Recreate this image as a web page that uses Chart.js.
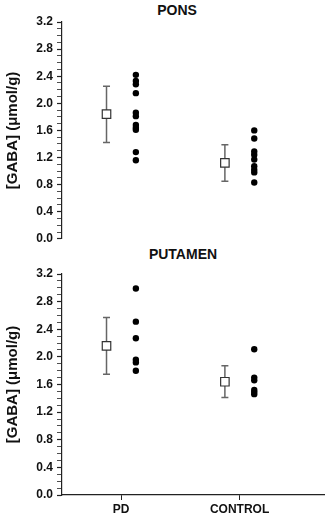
<!DOCTYPE html>
<html>
<head>
<title>GABA Pons / Putamen</title>
<script src="https://cdn.jsdelivr.net/npm/chart.js"></script>
<style>
  body { margin: 0; background: #fff; width: 332px; height: 515px; position: relative; overflow: hidden; }
  .ttl { position: absolute; font: bold 14px Arial, "Liberation Sans", sans-serif; color: #111; transform: translateX(-50%); }
  canvas { position: absolute; left: 0; }
</style>
</head>
<body>
<div class="ttl" style="left:177px; top:2px">PONS</div>
<div class="ttl" style="left:183px; top:246px">PUTAMEN</div>
<div style="position:absolute;left:0;top:0;width:332px;height:250px"><canvas id="pons"></canvas></div>
<div style="position:absolute;left:0;top:262px;width:332px;height:253px"><canvas id="putamen"></canvas></div>

<script>
// groups along the x axis
const categories = ['PD', 'CONTROL'];
const yTicks = [0, 0.4, 0.8, 1.2, 1.6, 2.0, 2.4, 2.8, 3.2];

// PONS - individual values
const ponsPD = [2.42, 2.33, 2.28, 2.15, 1.86, 1.81, 1.68, 1.64, 1.61, 1.28, 1.16];
const ponsControl = [1.60, 1.48, 1.29, 1.24, 1.17, 1.07, 1.02, 0.98, 0.83];
// PONS - mean with error bar ends
const ponsMean = [1.84, 1.12];
const ponsUpper = [2.25, 1.39];
const ponsLower = [1.42, 0.85];

// PUTAMEN - individual values
const putPD = [2.99, 2.51, 2.27, 1.96, 1.92, 1.80];
const putControl = [2.11, 1.70, 1.66, 1.52, 1.49, 1.46];
// PUTAMEN - mean with error bar ends
const putMean = [2.16, 1.64];
const putUpper = [2.57, 1.87];
const putLower = [1.75, 1.41];

const FONT = 'Arial, "Liberation Sans", sans-serif';
const SHIFT = 0.124; // mean marker left of category, dots right of it

// draws vertical error bars with caps behind the mean markers
const errorBars = {
  id: 'errorBars',
  beforeDatasetsDraw(chart, args, opts) {
    const { ctx, scales: { x, y } } = chart;
    ctx.save();
    ctx.strokeStyle = '#666';
    ctx.lineWidth = 1.5;
    opts.mean.forEach((m, i) => {
      const px = x.getPixelForValue(i + 1 - SHIFT);
      const top = y.getPixelForValue(opts.upper[i]);
      const bot = y.getPixelForValue(opts.lower[i]);
      ctx.beginPath();
      ctx.moveTo(px, top); ctx.lineTo(px, bot);
      ctx.moveTo(px - 3.5, top); ctx.lineTo(px + 3.5, top);
      ctx.moveTo(px - 3.5, bot); ctx.lineTo(px + 3.5, bot);
      ctx.stroke();
    });
    ctx.restore();
  }
};

function makeChart(id, pd, control, mean, upper, lower, showX, pad) {
  const dots = [];
  pd.forEach(v => dots.push({ x: 1 + SHIFT, y: v }));
  control.forEach(v => dots.push({ x: 2 + SHIFT, y: v }));
  const means = mean.map((v, i) => ({ x: i + 1 - SHIFT, y: v }));

  return new Chart(document.getElementById(id), {
    type: 'scatter',
    data: {
      datasets: [
        {
          data: dots,
          pointStyle: 'circle',
          pointRadius: 3.2,
          backgroundColor: '#000',
          borderColor: '#000',
          borderWidth: 0
        },
        {
          data: means,
          pointStyle: 'rect',
          pointRadius: 6,
          backgroundColor: '#fff',
          borderColor: '#333',
          borderWidth: 1.2
        }
      ]
    },
    options: {
      responsive: true,
      maintainAspectRatio: false,
      animation: false,
      events: [],
      layout: { padding: pad },
      plugins: {
        legend: { display: false },
        tooltip: { enabled: false },
        errorBars: { mean: mean, upper: upper, lower: lower }
      },
      scales: {
        x: {
          type: 'linear',
          min: 0.5,
          max: 2.72,
          display: showX,
          afterBuildTicks: s => { s.ticks = categories.map((c, i) => ({ value: i + 1 })); },
          afterFit: s => { s.height = showX ? 20 : 0; },
          ticks: {
            autoSkip: false,
            maxRotation: 0,
            padding: 2,
            color: '#111',
            font: { family: FONT, size: 12, weight: 'bold' },
            callback: (v) => categories[Math.round(v) - 1]
          },
          grid: { drawOnChartArea: false, tickLength: 5, color: '#222', tickWidth: 1 },
          border: { display: true, color: '#222', width: 1.2 }
        },
        y: {
          min: 0,
          max: 3.2,
          afterBuildTicks: s => {
            const t = [];
            for (let k = 0; k <= 32; k++) t.push({ value: k / 10 });
            s.ticks = t;
          },
          afterFit: s => { s.width = 58; },
          ticks: {
            autoSkip: false,
            padding: 4,
            color: '#111',
            font: { family: FONT, size: 12, weight: 'bold' },
            callback: (v) => {
              const k = Math.round(v * 10);
              if (k % 4 !== 0) return '';
              const lbl = yTicks.find(t => Math.round(t * 10) === k);
              return lbl.toFixed(1);
            }
          },
          grid: {
            drawOnChartArea: false,
            tickLength: 5,
            color: '#222',
            tickWidth: (c) => (Math.round(c.tick.value * 10) % 4 === 0 ? 1.2 : 0.8)
          },
          border: { display: true, color: '#222', width: 1.2 },
          title: {
            display: true,
            text: '[GABA] (\u03bcmol/g)',
            color: '#111',
            padding: { top: 0, bottom: 0 },
            font: { family: FONT, size: 15, weight: 'bold' }
          }
        }
      }
    },
    plugins: [errorBars]
  });
}

makeChart('pons', ponsPD, ponsControl, ponsMean, ponsUpper, ponsLower, false,
  { top: 22, bottom: 4, left: 4, right: 5 });
makeChart('putamen', putPD, putControl, putMean, putUpper, putLower, true,
  { top: 12, bottom: 0, left: 4, right: 5 });
</script>
</body>
</html>
